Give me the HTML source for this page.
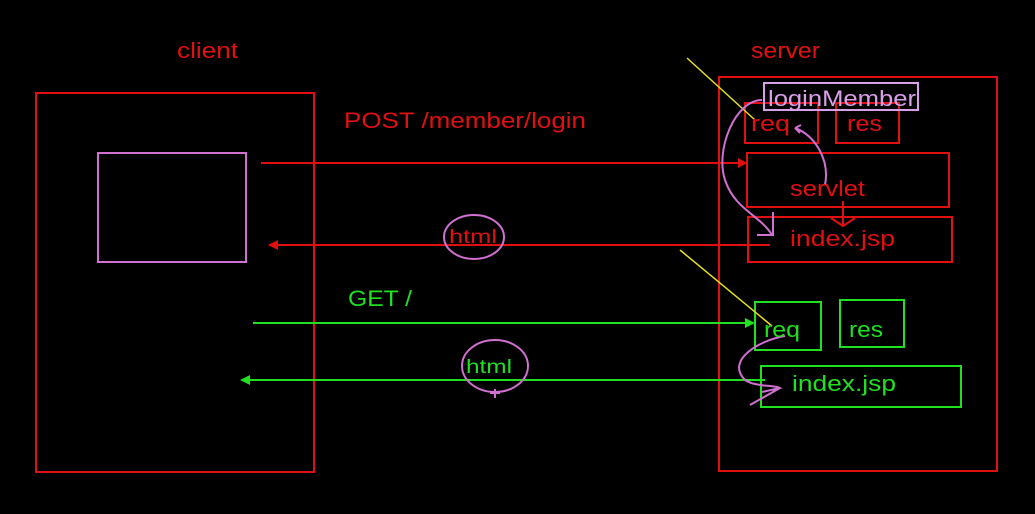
<!DOCTYPE html>
<html><head><style>
html,body{margin:0;padding:0;background:#000;}
svg{display:block;}
text{font-family:"Liberation Sans",sans-serif;}
</style></head><body>
<svg width="1035" height="514" viewBox="0 0 1035 514" xmlns="http://www.w3.org/2000/svg">
<rect width="1035" height="514" fill="#000"/>
<g fill="none" stroke="#e01010" stroke-width="2">
<rect x="36" y="93" width="278" height="379"/>
<rect x="719" y="77" width="278" height="394"/>
<rect x="745" y="103" width="73" height="40"/>
<rect x="836" y="103" width="63" height="40"/>
<rect x="747" y="153" width="202" height="54"/>
<rect x="748" y="217" width="204" height="45"/>
<line x1="261" y1="163" x2="745" y2="163"/>
<line x1="272" y1="245" x2="770" y2="245"/>
<line x1="843" y1="201" x2="843" y2="226"/>
<polyline points="831,218 843,226 855,218"/>
</g>
<polygon points="747,163 738,158 738,168" fill="#e01010"/>
<polygon points="268,245 278,240 278,250" fill="#e01010"/>
<rect x="98" y="153" width="148" height="109" fill="none" stroke="#d070d0" stroke-width="2"/>
<rect x="764" y="83" width="154" height="27" fill="none" stroke="#d8a0e8" stroke-width="2"/>
<g fill="none" stroke="#20e020" stroke-width="2">
<rect x="755" y="302" width="66" height="48"/>
<rect x="840" y="300" width="64" height="47"/>
<rect x="761" y="366" width="200" height="41"/>
<line x1="253" y1="323" x2="753" y2="323"/>
<line x1="244" y1="380" x2="765" y2="380"/>
</g>
<polygon points="755,323 745,318 745,328" fill="#20e020"/>
<polygon points="240,380 250,375 250,385" fill="#20e020"/>
<g stroke="#e8e020" stroke-width="1.5" fill="none">
<line x1="687" y1="58" x2="755" y2="120"/>
<line x1="680" y1="250" x2="772" y2="326"/>
</g>
<g stroke="#d070d0" stroke-width="2" fill="none">
<path d="M762,100 C735,100 715,150 725,180 C735,210 760,215 772,235"/>
<path d="M773,212 L773,235 L757,235"/>
<path d="M825,185 C830,160 815,135 795,128 M795,128 l6,-3 M795,128 l5,5"/>
<ellipse cx="474" cy="237" rx="30" ry="22"/>
<ellipse cx="495" cy="366" rx="33" ry="26"/>
<path d="M785,336 C760,340 725,360 745,380 C755,387 775,385 780,388 L762,392 M780,388 L750,405"/>
<path d="M495,389 L495,398 M490,393 L500,393"/>
</g>
<g fill="#e01010" font-size="22">
<text x="177" y="58" textLength="61" lengthAdjust="spacingAndGlyphs">client</text>
<text x="751" y="58" textLength="69" lengthAdjust="spacingAndGlyphs">server</text>
<text x="344" y="128" textLength="242" lengthAdjust="spacingAndGlyphs">POST /member/login</text>
<text x="751" y="131" textLength="39" lengthAdjust="spacingAndGlyphs">req</text>
<text x="847" y="131" textLength="35" lengthAdjust="spacingAndGlyphs">res</text>
<text x="790" y="196" textLength="75" lengthAdjust="spacingAndGlyphs">servlet</text>
<text x="790" y="246" textLength="105" lengthAdjust="spacingAndGlyphs">index.jsp</text>
<text x="449" y="243" font-size="19" textLength="48" lengthAdjust="spacingAndGlyphs">html</text>
</g>
<text x="768" y="106" fill="#d8a0e8" font-size="22" textLength="148" lengthAdjust="spacingAndGlyphs">loginMember</text>
<g fill="#20e020" font-size="22">
<text x="348" y="306" textLength="64" lengthAdjust="spacingAndGlyphs">GET /</text>
<text x="764" y="337" textLength="36" lengthAdjust="spacingAndGlyphs">req</text>
<text x="849" y="337" textLength="34" lengthAdjust="spacingAndGlyphs">res</text>
<text x="792" y="391" textLength="104" lengthAdjust="spacingAndGlyphs">index.jsp</text>
<text x="466" y="373" font-size="19" textLength="46" lengthAdjust="spacingAndGlyphs">html</text>
</g>
</svg>
</body></html>
